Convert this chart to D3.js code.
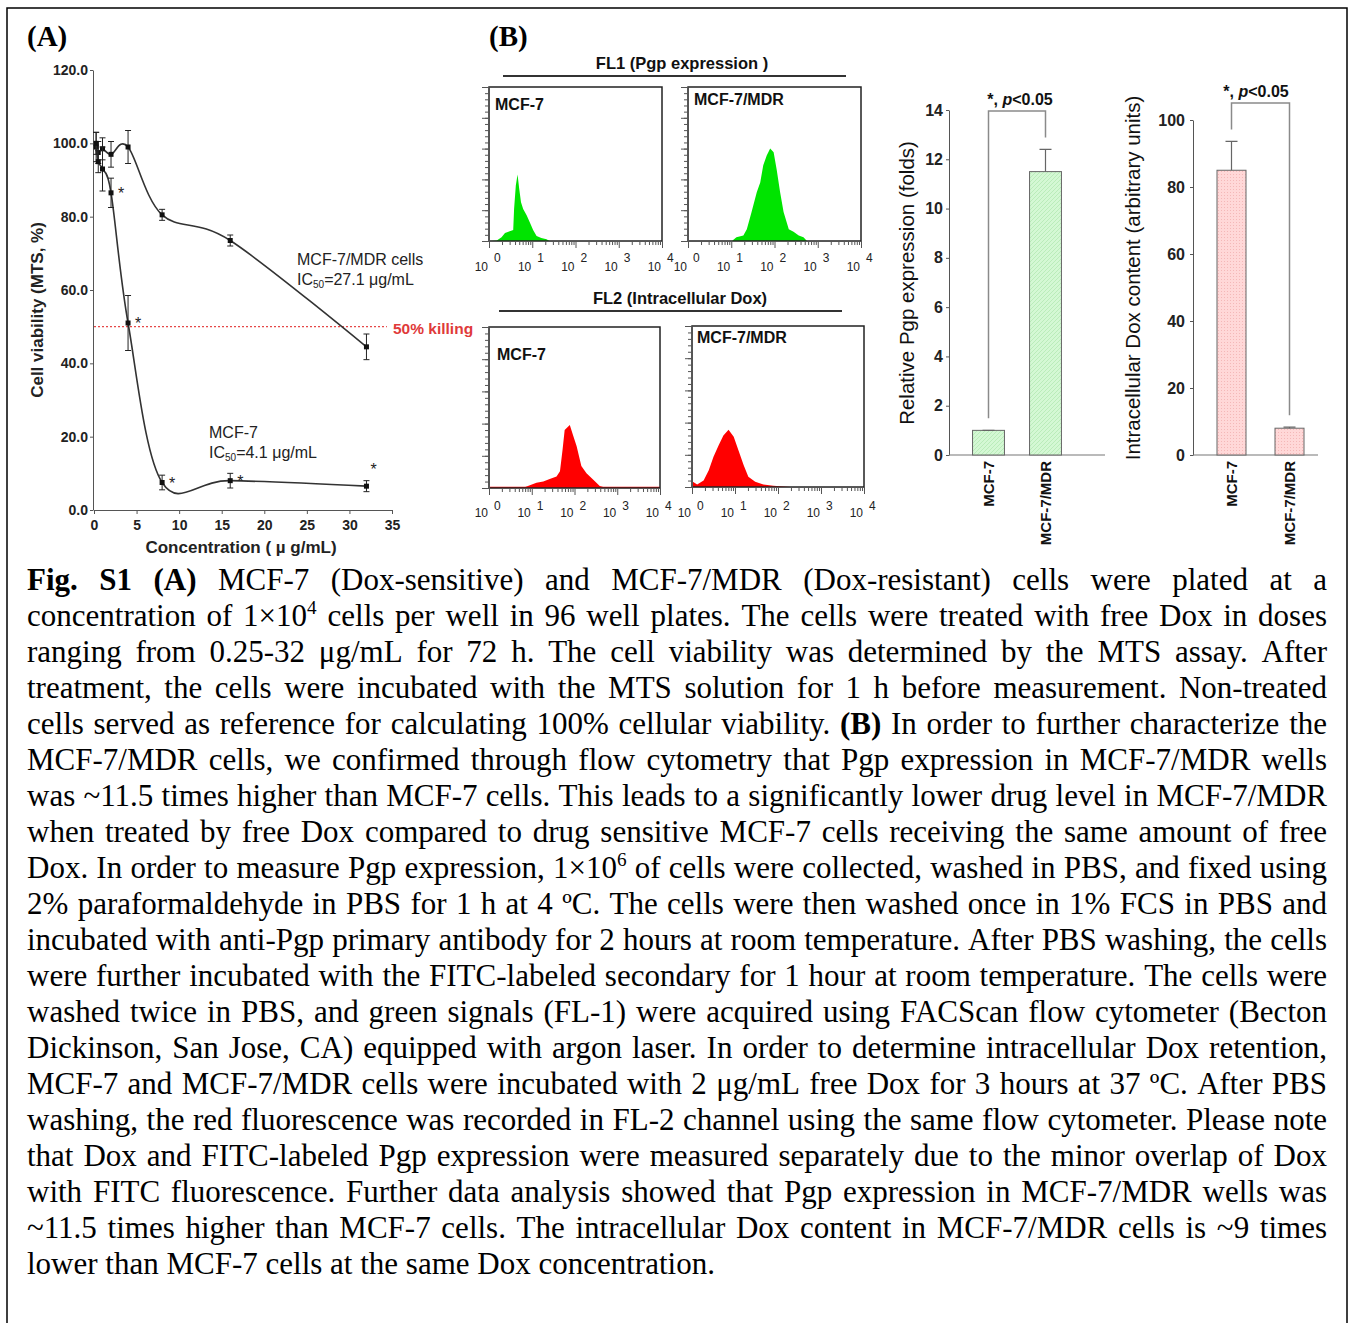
<!DOCTYPE html>
<html>
<head>
<meta charset="utf-8">
<script src="https://cdn.jsdelivr.net/npm/d3@7"></script>
<style>
body { margin: 0; background: #fff; }
#wrap { width: 1349px; height: 1323px; overflow: hidden; }
.ax text { font-family: "Liberation Sans", Arial, sans-serif; font-weight: bold; fill: #222; }
.ax path, .ax line { stroke: #555; }
</style>
</head>
<body>
<div id="wrap"></div>
<script>
// ---------- data ----------
// panel A: MTS viability
const conc = [0.25, 0.5, 1, 2, 4, 8, 16, 32];
const mcf7Viab = [100, 95, 93, 86.5, 51, 7.5, 8, 6.5];
const mcf7Err = [3, 3, 6, 4, 7.5, 2, 2, 1.5];
const mcf7Star = [false, false, false, true, true, true, true, true];
const mdrViab = [99, 97.5, 98.5, 97, 99, 80.5, 73.5, 44.5];
const mdrErr = [4, 3, 3, 3.5, 4.5, 1.5, 1.5, 3.5];
const viabTicks = [0, 20, 40, 60, 80, 100, 120];
const concTicks = [0, 5, 10, 15, 20, 25, 30, 35];

// panel B: flow histograms (log10 fluorescence, counts)
const fl1Mcf7Log = [0.04, 0.18, 0.29, 0.37, 0.48, 0.56, 0.58, 0.62, 0.66, 0.70, 0.74, 0.79, 0.87, 0.94, 1.02, 1.10, 1.21, 1.33, 1.40];
const fl1Mcf7Cnt = [0, 1, 6, 13, 16, 18, 52, 90, 108, 84, 63, 52, 42, 31, 18, 8, 5, 3, 0];
const fl1MdrLog = [1.02, 1.05, 1.12, 1.28, 1.36, 1.47, 1.59, 1.67, 1.74, 1.82, 1.90, 1.98, 2.05, 2.13, 2.21, 2.33, 2.44, 2.56, 2.67, 2.75];
const fl1MdrCnt = [0, 2, 6, 9, 19, 47, 79, 95, 123, 139, 150, 144, 116, 79, 47, 19, 15, 9, 6, 0];
const fl2Mcf7Log = [0, 0.85, 0.91, 1.11, 1.27, 1.42, 1.58, 1.66, 1.72, 1.77, 1.89, 1.97, 2.05, 2.16, 2.28, 2.44, 2.59, 2.67, 4];
const fl2Mcf7Cnt = [2, 2, 3, 8, 10, 14, 18, 26, 59, 90, 98, 81, 65, 34, 23, 13, 3, 2, 2];
const fl2MdrLog = [0, 0.02, 0.12, 0.27, 0.39, 0.50, 0.62, 0.73, 0.85, 0.97, 1.08, 1.20, 1.31, 1.47, 1.66, 1.89, 2.05, 2.3];
const fl2MdrCnt = [8, 8, 4, 10, 26, 47, 65, 80, 89, 78, 57, 34, 16, 8, 4, 2, 1, 0];
const decades = [0, 1, 2, 3, 4];

// panel B: bar charts
const cellLines = ["MCF-7", "MCF-7/MDR"];
const pgpVals = [1.0, 11.5];
const pgpErr = [0, 0.9];
const pgpTicks = [0, 2, 4, 6, 8, 10, 12, 14];
const doxVals = [85, 8];
const doxErr = [8.6, 0.3];
const doxTicks = [0, 20, 40, 60, 80, 100];

// caption (** bold, ^ superscript)
const caption = [
  "**Fig. S1 (A)** MCF-7 (Dox-sensitive) and MCF-7/MDR (Dox-resistant) cells were plated at a",
  "concentration of 1×10^4^ cells per well in 96 well plates. The cells were treated with free Dox in doses",
  "ranging from 0.25-32 μg/mL for 72 h. The cell viability was determined by the MTS assay. After",
  "treatment, the cells were incubated with the MTS solution for 1 h before measurement. Non-treated",
  "cells served as reference for calculating 100% cellular viability. **(B)** In order to further characterize the",
  "MCF-7/MDR cells, we confirmed through flow cytometry that Pgp expression in MCF-7/MDR wells",
  "was ~11.5 times higher than MCF-7 cells. This leads to a significantly lower drug level in MCF-7/MDR",
  "when treated by free Dox compared to drug sensitive MCF-7 cells receiving the same amount of free",
  "Dox. In order to measure Pgp expression, 1×10^6^ of cells were collected, washed in PBS, and fixed using",
  "2% paraformaldehyde in PBS for 1 h at 4 ºC. The cells were then washed once in 1% FCS in PBS and",
  "incubated with anti-Pgp primary antibody for 2 hours at room temperature. After PBS washing, the cells",
  "were further incubated with the FITC-labeled secondary for 1 hour at room temperature. The cells were",
  "washed twice in PBS, and green signals (FL-1) were acquired using FACScan flow cytometer (Becton",
  "Dickinson, San Jose, CA) equipped with argon laser. In order to determine intracellular Dox retention,",
  "MCF-7 and MCF-7/MDR cells were incubated with 2 μg/mL free Dox for 3 hours at 37 ºC. After PBS",
  "washing, the red fluorescence was recorded in FL-2 channel using the same flow cytometer. Please note",
  "that Dox and FITC-labeled Pgp expression were measured separately due to the minor overlap of Dox",
  "with FITC fluorescence. Further data analysis showed that Pgp expression in MCF-7/MDR wells was",
  "~11.5 times higher than MCF-7 cells. The intracellular Dox content in MCF-7/MDR cells is ~9 times",
  "lower than MCF-7 cells at the same Dox concentration."
];

const sans = '"Liberation Sans", Arial, sans-serif';
const serif = '"Liberation Serif", "Times New Roman", serif';

const svg = d3.select("#wrap").append("svg")
  .attr("width", 1349).attr("height", 1323);

// patterns for bar fills
const defs = svg.append("defs");
let gp = defs.append("pattern").attr("id", "gpat").attr("width", 4).attr("height", 4).attr("patternUnits", "userSpaceOnUse");
gp.append("rect").attr("width", 4).attr("height", 4).attr("fill", "#d4f8d4");
gp.append("path").attr("d", "M0,4L4,0").attr("stroke", "#b4e8b4").attr("stroke-width", 0.8);
let pp = defs.append("pattern").attr("id", "ppat").attr("width", 3).attr("height", 3).attr("patternUnits", "userSpaceOnUse");
pp.append("rect").attr("width", 3).attr("height", 3).attr("fill", "#ffd8d8");
pp.append("rect").attr("width", 1).attr("height", 1).attr("fill", "#f4b8b8");

// frame
svg.append("path").attr("d", "M7,1330V8H1347V1330")
  .attr("fill", "none").attr("stroke", "#000").attr("stroke-width", 1.5);

// panel letters
svg.append("text").attr("x", 27).attr("y", 46).attr("font-family", serif).attr("font-weight", "bold")
  .attr("font-size", 29).text("(A)");
svg.append("text").attr("x", 489).attr("y", 46).attr("font-family", serif).attr("font-weight", "bold")
  .attr("font-size", 29).text("(B)");

// ---------- panel A ----------
const xA = d3.scaleLinear().domain([0, 35]).range([94, 392]);
const yA = d3.scaleLinear().domain([0, 120]).range([510, 70]);
const gA = svg.append("g");

gA.append("g").attr("class", "ax").attr("transform", "translate(93,0)")
  .call(d3.axisLeft(yA).tickValues(viabTicks).tickFormat(d3.format(".1f")).tickSize(3).tickSizeOuter(0).tickPadding(2))
  .selectAll("text").attr("font-size", 14);
gA.append("g").attr("class", "ax").attr("transform", "translate(0,510)")
  .call(d3.axisBottom(xA).tickValues(concTicks).tickSize(4).tickSizeOuter(0).tickPadding(6))
  .selectAll("text").attr("font-size", 14);
gA.selectAll(".ax path").attr("stroke", "#555");

gA.append("text").attr("x", 241).attr("y", 553).attr("text-anchor", "middle")
  .attr("font-family", sans).attr("font-weight", "bold").attr("font-size", 17).attr("fill", "#222")
  .text("Concentration ( µ g/mL)");
gA.append("text").attr("transform", "translate(43,310) rotate(-90)").attr("text-anchor", "middle")
  .attr("font-family", sans).attr("font-weight", "bold").attr("font-size", 17).attr("fill", "#222")
  .text("Cell viability (MTS, %)");

// 50% line
gA.append("line").attr("x1", xA(0)).attr("x2", xA(34.4)).attr("y1", yA(50)).attr("y2", yA(50))
  .attr("stroke", "#e54848").attr("stroke-width", 1.3).attr("stroke-dasharray", "2,2");
gA.append("text").attr("x", 393).attr("y", 334).attr("font-family", sans).attr("font-weight", "bold")
  .attr("font-size", 15.5).attr("fill", "#e03a3a").text("50% killing");

const lineA = d3.line().x(d => xA(d[0])).y(d => yA(d[1])).curve(d3.curveCatmullRom.alpha(0));
function drawSeries(vals, errs) {
  const pts = conc.map((c, i) => [c, vals[i], errs[i]]);
  gA.append("path").datum(pts).attr("d", lineA).attr("fill", "none").attr("stroke", "#333").attr("stroke-width", 1.6);
  const eb = gA.append("g").attr("stroke", "#222").attr("stroke-width", 1);
  eb.selectAll(null).data(pts).join("path")
    .attr("d", d => `M${xA(d[0]) - 3},${yA(d[1] + d[2])}H${xA(d[0]) + 3}M${xA(d[0])},${yA(d[1] + d[2])}V${yA(d[1] - d[2])}M${xA(d[0]) - 3},${yA(d[1] - d[2])}H${xA(d[0]) + 3}`);
  gA.selectAll(null).data(pts).join("rect")
    .attr("x", d => xA(d[0]) - 2.5).attr("y", d => yA(d[1]) - 2.5).attr("width", 5).attr("height", 5).attr("fill", "#111");
  return pts;
}
drawSeries(mdrViab, mdrErr);
const mcfPts = drawSeries(mcf7Viab, mcf7Err);
gA.selectAll(null).data(mcfPts.filter((d, i) => mcf7Star[i])).join("text")
  .attr("x", d => xA(d[0]) + (d[0] > 30 ? 4 : 7))
  .attr("y", d => d[0] > 30 ? yA(d[1] + d[2]) - 6 : yA(d[1]) + 6)
  .attr("font-family", sans).attr("font-size", 16).attr("fill", "#222").text("*");

function icLabel(x, y, name, ic) {
  const t = gA.append("g").attr("font-family", sans).attr("font-size", 16).attr("fill", "#222");
  t.append("text").attr("x", x).attr("y", y).text(name);
  const s = t.append("text").attr("x", x).attr("y", y + 20);
  s.append("tspan").text("IC");
  s.append("tspan").attr("font-size", 10).attr("dy", 3).text("50");
  s.append("tspan").attr("dy", -3).text("=" + ic + " μg/mL");
}
icLabel(297, 265, "MCF-7/MDR cells", "27.1");
icLabel(209, 438, "MCF-7", "4.1");

// ---------- panel B: histograms ----------
function drawHist(box, logs, counts, color, label, lx, ly, lab0, labSup) {
  const g = svg.append("g");
  const x = d3.scaleLog().domain([1, 1e4]).range([box.x0, box.x1]);
  const y = d3.scaleLinear().domain([0, 250]).range([box.y1, box.y0]);
  const pts = logs.map((l, i) => [Math.pow(10, l), counts[i]]);
  g.append("path").datum(pts)
    .attr("d", d3.area().x(d => x(d[0])).y0(y(0)).y1(d => y(d[1])))
    .attr("fill", color);
  g.append("rect").attr("x", box.x0).attr("y", box.y0).attr("width", box.x1 - box.x0).attr("height", box.y1 - box.y0)
    .attr("fill", "none").attr("stroke", "#222").attr("stroke-width", 1.5);
  // left ticks
  g.append("g").attr("class", "ax").attr("transform", `translate(${box.x0},0)`)
    .call(d3.axisLeft(y).tickValues(d3.range(0, 251, 10)).tickSize(4).tickSizeOuter(0).tickFormat(""));
  g.append("g").attr("class", "ax").attr("transform", `translate(${box.x0},0)`)
    .call(d3.axisLeft(y).tickValues(d3.range(0, 251, 50)).tickSize(7).tickSizeOuter(0).tickFormat(""));
  // bottom log ticks
  const minor = [];
  decades.slice(0, 4).forEach(e => { for (let m = 2; m < 10; m++) minor.push(m * Math.pow(10, e)); });
  g.append("g").attr("class", "ax").attr("transform", `translate(0,${box.y1})`)
    .call(d3.axisBottom(x).tickValues(minor).tickSize(4).tickSizeOuter(0).tickFormat(""));
  g.append("g").attr("class", "ax").attr("transform", `translate(0,${box.y1})`)
    .call(d3.axisBottom(x).tickValues(decades.map(e => Math.pow(10, e))).tickSize(7).tickSizeOuter(0).tickFormat(""));
  g.selectAll(".ax path").attr("stroke", "none");
  g.selectAll(".ax line").attr("stroke", "#333");
  // decade labels
  const lg = g.append("g").attr("font-family", sans).attr("font-size", 12).attr("fill", "#222");
  lg.selectAll(null).data(decades).join("text")
    .attr("x", e => x(Math.pow(10, e)) - 1).attr("y", lab0).attr("text-anchor", "end").text("10");
  lg.selectAll(null).data(decades).join("text")
    .attr("x", e => x(Math.pow(10, e)) + 5).attr("y", labSup).text(e => e);
  g.append("text").attr("x", lx).attr("y", ly).attr("font-family", sans).attr("font-weight", "bold")
    .attr("font-size", 16).attr("fill", "#111").text(label);
}
const green = "#00e400", red = "#ff0000";
drawHist({x0: 489, x1: 662, y0: 87, y1: 241}, fl1Mcf7Log, fl1Mcf7Cnt, green, "MCF-7", 495, 110, 271, 262);
drawHist({x0: 688, x1: 861, y0: 87, y1: 241}, fl1MdrLog, fl1MdrCnt, green, "MCF-7/MDR", 694, 105, 271, 262);
drawHist({x0: 489, x1: 660, y0: 327, y1: 488}, fl2Mcf7Log, fl2Mcf7Cnt, red, "MCF-7", 497, 360, 517, 510);
drawHist({x0: 692, x1: 864, y0: 326, y1: 487}, fl2MdrLog, fl2MdrCnt, red, "MCF-7/MDR", 697, 343, 517, 510);

function groupTitle(txt, cx, y, lx0, lx1, ly) {
  svg.append("text").attr("x", cx).attr("y", y).attr("text-anchor", "middle").attr("font-family", sans)
    .attr("font-weight", "bold").attr("font-size", 16.5).attr("fill", "#111").text(txt);
  svg.append("line").attr("x1", lx0).attr("x2", lx1).attr("y1", ly).attr("y2", ly)
    .attr("stroke", "#333").attr("stroke-width", 2);
}
groupTitle("FL1 (Pgp expression )", 682, 69, 503, 846, 76);
groupTitle("FL2 (Intracellular Dox)", 680, 304, 499, 842, 311);

// ---------- panel B: bar charts ----------
function barChart(o) {
  const g = svg.append("g");
  const x = d3.scaleBand().domain(cellLines).range(o.xr).paddingInner(o.pin).paddingOuter(o.pout);
  const y = d3.scaleLinear().domain(o.dom).range([455, o.top]);
  g.append("g").attr("class", "ax").attr("transform", `translate(${o.ax},0)`)
    .call(d3.axisLeft(y).tickValues(o.ticks).tickSize(3).tickSizeOuter(0).tickPadding(o.pad))
    .selectAll("text").attr("font-size", 16);
  g.selectAll(".ax path, .ax line").attr("stroke", "#777");
  g.append("line").attr("x1", o.ax).attr("x2", o.axEnd).attr("y1", y(0)).attr("y2", y(0))
    .attr("stroke", "#777").attr("stroke-width", 1.2);
  g.selectAll(null).data(o.vals).join("rect")
    .attr("x", (d, i) => x(cellLines[i])).attr("y", d => y(d))
    .attr("width", x.bandwidth()).attr("height", d => y(0) - y(d))
    .attr("fill", o.fill).attr("stroke", "#666").attr("stroke-width", 1);
  g.selectAll(null).data(o.vals).join("path")
    .attr("d", (d, i) => {
      const cx = x(cellLines[i]) + x.bandwidth() / 2, t = y(d + o.err[i]);
      return `M${cx},${y(d)}V${t}M${cx - 6},${t}H${cx + 6}`;
    })
    .attr("stroke", "#666").attr("stroke-width", 1.2).attr("fill", "none");
  // significance bracket
  const c0 = x(cellLines[0]) + x.bandwidth() / 2, c1 = x(cellLines[1]) + x.bandwidth() / 2;
  const b0 = y(o.vals[0] + o.err[0]) - 12, b1 = y(o.vals[1] + o.err[1]) - 12;
  g.append("path").attr("d", `M${c0},${b0}V${o.brY}H${c1}V${b1}`)
    .attr("fill", "none").attr("stroke", "#8a8a8a").attr("stroke-width", 1.5);
  const st = g.append("text").attr("x", o.sx).attr("y", o.brY - 6).attr("text-anchor", "middle")
    .attr("font-family", sans).attr("font-weight", "bold").attr("font-size", 16).attr("fill", "#111");
  st.append("tspan").text("*, ");
  st.append("tspan").attr("font-style", "italic").text("p");
  st.append("tspan").text("<0.05");
  // category labels
  g.selectAll(null).data(cellLines).join("text")
    .attr("transform", d => `translate(${x(d) + x.bandwidth() / 2 + 5},461) rotate(-90)`)
    .attr("text-anchor", "end").attr("font-family", sans).attr("font-weight", "bold")
    .attr("font-size", 15).attr("fill", "#111").text(d => d);
  g.append("text").attr("transform", `translate(${o.tx},${o.ty}) rotate(-90)`).attr("text-anchor", "middle")
    .attr("font-family", sans).attr("font-size", 20.5).attr("fill", "#111").text(o.title);
}
barChart({xr: [960, 1074], pin: 0.44, pout: 0.22, dom: [0, 14], top: 110, ax: 949, axEnd: 1105, pad: 3,
  ticks: pgpTicks, vals: pgpVals, err: pgpErr, fill: "url(#gpat)", brY: 111, sx: 1020,
  title: "Relative Pgp expression (folds)", tx: 914, ty: 283});
barChart({xr: [1202.5, 1318.5], pin: 0.5, pout: 0.25, dom: [0, 100], top: 120, ax: 1193, axEnd: 1318, pad: 5,
  ticks: doxTicks, vals: doxVals, err: doxErr, fill: "url(#ppat)", brY: 103, sx: 1256,
  title: "Intracellular Dox content (arbitrary units)", tx: 1140, ty: 278});

// ---------- caption, justified word by word ----------
function parseLine(s) {
  const words = [[]];
  let bold = false, sup = false, buf = "", i = 0;
  const flush = () => { if (buf) { words[words.length - 1].push({t: buf, b: bold, sup: sup}); buf = ""; } };
  while (i < s.length) {
    if (s.startsWith("**", i)) { flush(); bold = !bold; i += 2; continue; }
    if (s[i] === "^") { flush(); sup = !sup; i++; continue; }
    if (s[i] === " ") { flush(); if (words[words.length - 1].length) words.push([]); i++; continue; }
    buf += s[i]; i++;
  }
  flush();
  return words.filter(w => w.length);
}
const capFont = 31, capX = 27, capW = 1300, capY0 = 590, capLH = 36;
const capG = svg.append("g").attr("font-family", serif).attr("font-size", capFont).attr("fill", "#000");
caption.forEach((line, li) => {
  const y = capY0 + li * capLH;
  const words = parseLine(line);
  const els = words.map(w => {
    const t = capG.append("text").attr("y", y);
    let raised = false;
    w.forEach(seg => {
      const ts = t.append("tspan").text(seg.t);
      if (seg.b) ts.attr("font-weight", "bold");
      if (seg.sup) { ts.attr("font-size", capFont * 0.62).attr("dy", -12); raised = true; }
      else if (raised) { ts.attr("dy", 12); raised = false; }
    });
    return {el: t, w: t.node().getComputedTextLength()};
  });
  const total = d3.sum(els, d => d.w);
  const last = li === caption.length - 1;
  const gap = last ? capFont * 0.25 : (capW - total) / (els.length - 1);
  let cx = capX;
  els.forEach(d => { d.el.attr("x", cx); cx += d.w + gap; });
});
</script>
</body>
</html>
